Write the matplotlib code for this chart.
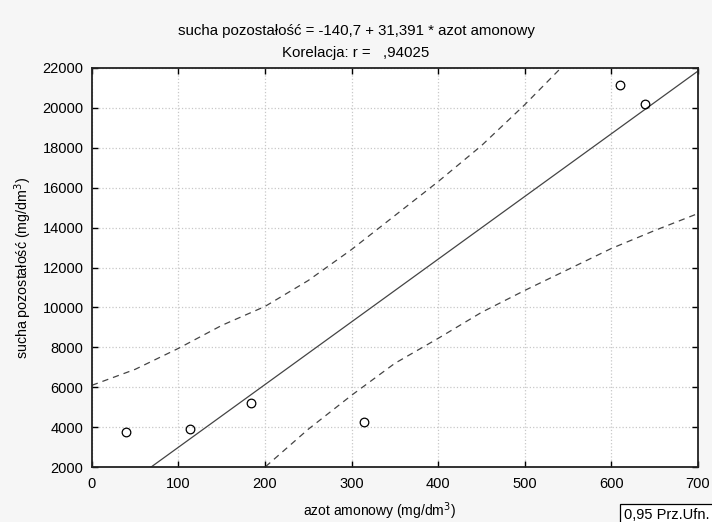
import matplotlib.pyplot as plt
import numpy as np

plt.rcParams['font.family'] = ['Liberation Sans', 'DejaVu Sans']

# punkty pomiarowe
azot = [40, 113, 184, 314, 610, 639]
sucha = [3750, 3900, 5200, 4250, 21150, 20200]

# regresja: sucha = -140,7 + 31,391 * azot
b0 = -140.7
b1 = 31.391

# przedzial ufnosci 0,95
gora_x = [0, 50, 100, 150, 200, 250, 300, 350, 400, 450, 500, 550]
gora_y = [6100, 6900, 7950, 9100, 10050, 11350, 12900, 14600, 16300, 18100, 20150, 22350]
dol_x = [190, 200, 250, 300, 350, 400, 450, 500, 550, 600, 650, 700]
dol_y = [1700, 2000, 3900, 5600, 7200, 8450, 9750, 10850, 11900, 12950, 13850, 14700]

fig = plt.figure(figsize=(7.12, 5.22), dpi=100, facecolor='#f6f6f6')
ax = fig.add_axes([0.129, 0.105, 0.851, 0.765])
ax.set_facecolor('white')

lx = np.array([0, 700])
ax.plot(lx, b0 + b1 * lx, color='#444444', lw=0.9)
ax.plot(gora_x, gora_y, color='#444444', lw=0.9, ls=(0, (5, 4)))
ax.plot(dol_x, dol_y, color='#444444', lw=0.9, ls=(0, (5, 4)))
ax.plot(azot, sucha, 'o', ms=6.2, mfc='none', mec='black', mew=0.9)

ax.set_xlim(0, 700)
ax.set_ylim(2000, 22000)
ax.set_xticks(range(0, 701, 100))
ax.set_yticks(range(2000, 22001, 2000))
ax.grid(True, color='#c8c8c8', ls=':', lw=0.9)
ax.tick_params(direction='in', top=True, right=True, length=4, labelsize=10.5, width=1)
ax.tick_params(axis='x', pad=7)
ax.tick_params(axis='y', pad=6)
for s in ax.spines.values():
    s.set_linewidth(1.3)
    s.set_color('#222222')

ax.set_xlabel('azot amonowy (mg/dm$^3$)', fontsize=10)
ax.xaxis.set_label_coords((380 - 92) / 606, -0.084)
ax.set_ylabel('sucha pozostałość (mg/dm$^3$)', fontsize=10.3)
ax.yaxis.set_label_coords(-0.096, 0.5)

fig.text(0.5, 0.941, 'sucha pozostałość = -140,7 + 31,391 * azot amonowy',
         ha='center', va='center', fontsize=10.8)
fig.text(0.5, 0.899, 'Korelacja: r =   ,94025', ha='center', va='center', fontsize=10.8)

fig.text(0.876, 0.014, '0,95 Prz.Ufn.', ha='left', va='center', fontsize=10.5,
         bbox=dict(boxstyle='square,pad=0.25', fc='white', ec='black', lw=0.9))

fig.savefig('out.png', dpi=100, facecolor=fig.get_facecolor())
